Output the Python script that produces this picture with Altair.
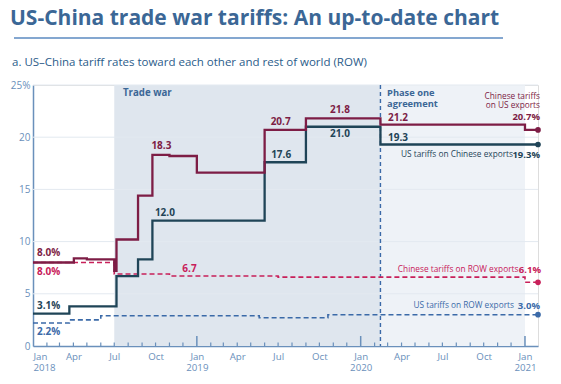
import altair as alt
import pandas as pd

FONT = "Open Sans"

TITLE = "US-China trade war tariffs: An up-to-date chart"
SUBTITLE = "a. US\u2013China tariff rates toward each other and rest of world (ROW)"

# ---- series (step data: date of change, new rate) ----
us_china_dates = ["2018-01-01", "2018-03-23", "2018-07-06", "2018-08-23", "2018-09-24",
                  "2019-06-01", "2019-09-01", "2020-02-14", "2021-01-30"]
us_china_vals = [3.1, 3.8, 6.7, 8.3, 12.0, 17.6, 21.0, 19.3, 19.3]

cn_us_dates = ["2018-01-01", "2018-04-02", "2018-05-01", "2018-07-01", "2018-07-06",
               "2018-08-23", "2018-09-24", "2018-11-01", "2019-01-01", "2019-06-01",
               "2019-09-01", "2020-02-14", "2021-01-01", "2021-01-30"]
cn_us_vals = [8.0, 8.4, 8.3, 7.2, 10.2, 14.4, 18.3, 18.2, 16.6, 20.7, 21.8, 21.2, 20.7, 20.7]

cn_row_dates = ["2018-01-01", "2018-07-01", "2018-11-01", "2019-07-01", "2021-01-01", "2021-01-30"]
cn_row_vals = [8.0, 6.9, 6.7, 6.6, 6.1, 6.1]

us_row_dates = ["2018-01-01", "2018-03-23", "2018-06-01", "2019-05-20", "2019-10-20", "2021-01-30"]
us_row_vals = [2.2, 2.5, 2.9, 2.7, 3.0, 3.0]

# ---- periods ----
trade_war = ("2018-07-01", "2020-02-14")
phase_one = ("2020-02-14", "2021-01-01")

y_ticks = [0, 5, 10, 15, 20, 25]

# ---- colors ----
MAROON = "#7d1d45"
NAVY = "#1f4457"
CRIMSON = "#c8205a"
BLUE = "#3b6aa8"
TXTBLUE = "#3b6796"
AXIS = "#6a90bb"
SHADE1 = "#dfe6ee"
SHADE2 = "#eef2f7"
GRID = "#e3e9f0"

W, H = 505, 261

xscale = alt.Scale(type="utc",
                   domain=[alt.DateTime(year=2018, month=1, date=1, utc=True),
                           alt.DateTime(year=2021, month=1, date=30, utc=True)])
yscale = alt.Scale(domain=[0, 25], nice=False)


def X(field="date", axis=None):
    if axis is None:
        return alt.X(f"{field}:T", scale=xscale, title=None)
    return alt.X(f"{field}:T", scale=xscale, axis=axis, title=None)


def Y(field="v", axis=None):
    if axis is None:
        return alt.Y(f"{field}:Q", scale=yscale, title=None)
    return alt.Y(f"{field}:Q", scale=yscale, axis=axis, title=None)


def series(dates, vals):
    return pd.DataFrame({"date": dates, "v": vals})


layers = []

# shading
shade_df = pd.DataFrame({"s": [trade_war[0], phase_one[0]], "e": [trade_war[1], phase_one[1]],
                         "k": ["tw", "po"]})
layers.append(
    alt.Chart(shade_df).mark_rect().encode(
        x=X("s"), x2="e:T", y=alt.value(0), y2=alt.value(H),
        color=alt.Color("k:N", scale=alt.Scale(domain=["tw", "po"], range=[SHADE1, SHADE2]), legend=None)
    )
)

# grid
layers.append(
    alt.Chart(pd.DataFrame({"v": y_ticks[1:]})).mark_rule(color=GRID, strokeWidth=1).encode(y=Y("v"))
)

# ticks
months = pd.date_range("2018-01-01", "2021-01-01", freq="MS").strftime("%Y-%m-%d").tolist()
minor = [m for m in months if not m.endswith("-01-01")]
major = [m for m in months if m.endswith("-01-01") and m != "2018-01-01"]
layers.append(alt.Chart(pd.DataFrame({"date": minor})).mark_rule(color=AXIS, strokeWidth=1.2).encode(
    x=X(), y=alt.value(H), y2=alt.value(H - 3.5)))
layers.append(alt.Chart(pd.DataFrame({"date": major})).mark_rule(color=AXIS, strokeWidth=1.5).encode(
    x=X(), y=alt.value(H), y2=alt.value(H - 10)))

# phase one divider
layers.append(alt.Chart(pd.DataFrame({"date": [phase_one[0]]})).mark_rule(
    color=BLUE, strokeWidth=1.4, strokeDash=[4, 3]).encode(x=X(), y=alt.value(0), y2=alt.value(H)))

# axes
x_axis = alt.Axis(
    values=[alt.DateTime(year=y, month=m, date=1, utc=True)
            for y in (2018, 2019, 2020) for m in (1, 4, 7, 10)] + [alt.DateTime(year=2021, month=1, date=1, utc=True)],
    labelExpr="utcFormat(datum.value, '%m') == '01' ? [utcFormat(datum.value, '%b'), utcFormat(datum.value, '%Y')] : utcFormat(datum.value, '%b')",
    labelFlush=True, labelOverlap=False,
)
y_axis = alt.Axis(values=y_ticks, labelExpr="datum.value == 25 ? '25%' : datum.label")

# series lines
us_row = series(us_row_dates, us_row_vals)
cn_row = series(cn_row_dates, cn_row_vals)
us_cn = series(us_china_dates, us_china_vals)
cn_us = series(cn_us_dates, cn_us_vals)

layers.append(alt.Chart(us_row).mark_line(interpolate="step-after", color=BLUE, strokeWidth=1.6,
                                           strokeDash=[5, 3]).encode(x=X(axis=x_axis), y=Y(axis=y_axis)))
layers.append(alt.Chart(cn_row).mark_line(interpolate="step-after", color=CRIMSON, strokeWidth=1.6,
                                           strokeDash=[5, 3]).encode(x=X(), y=Y()))
layers.append(alt.Chart(us_cn).mark_line(interpolate="step-after", color=NAVY, strokeWidth=2.3).encode(x=X(), y=Y()))
layers.append(alt.Chart(cn_us).mark_line(interpolate="step-after", color=MAROON, strokeWidth=2.3).encode(x=X(), y=Y()))

# end dots
for df, col in ((us_row, BLUE), (cn_row, CRIMSON), (us_cn, NAVY), (cn_us, MAROON)):
    layers.append(alt.Chart(df.tail(1)).mark_circle(color=col, size=32, opacity=1).encode(x=X(), y=Y()))


def ann(date, value, text, color, dx, dy, align="center", weight="bold", size=10):
    df = pd.DataFrame({"date": [date], "v": [value], "t": [text]})
    return alt.Chart(df).mark_text(dx=dx, dy=dy, align=align, baseline="middle", color=color,
                                   fontWeight=weight, fontSize=size, font=FONT).encode(
        x=X(), y=Y(), text="t:N")


END = "2021-01-30"
NS = 8.3   # series name size
VS = 9.5   # end value size
layers += [
    ann("2018-01-01", 8.0, "8.0%", MAROON, 4, -9.6, "left"),
    ann("2018-01-01", 8.0, "8.0%", CRIMSON, 4, 9.4, "left"),
    ann("2018-01-01", 3.1, "3.1%", NAVY, 4, -7.7, "left"),
    ann("2018-01-01", 2.2, "2.2%", BLUE, 4, 9, "left"),
    ann("2018-09-24", 18.3, "18.3", MAROON, 9, -9),
    ann("2018-09-24", 12.0, "12.0", NAVY, 12.5, -7.5),
    ann("2018-11-01", 6.7, "6.7", CRIMSON, 20, -7.3),
    ann("2019-06-01", 20.7, "20.7", MAROON, 16, -7.6),
    ann("2019-06-01", 17.6, "17.6", NAVY, 16.5, -7.4),
    ann("2019-09-01", 21.8, "21.8", MAROON, 34, -8.6),
    ann("2019-09-01", 21.0, "21.0", NAVY, 34, 7),
    ann("2020-02-14", 21.2, "21.2", MAROON, 7.5, -6.6, "left"),
    ann("2020-02-14", 19.3, "19.3", NAVY, 7.5, -6.4, "left"),
    # end labels
    ann(END, 20.7, "Chinese tariffs", MAROON, 2, -33, "right", "normal", NS),
    ann(END, 20.7, "on US exports", MAROON, 2, -23.5, "right", "normal", NS),
    ann(END, 20.7, "20.7%", MAROON, 2, -13, "right", "bold", VS),
    ann(END, 19.3, "US tariffs on Chinese exports", NAVY, -25, 10, "right", "normal", NS),
    ann(END, 19.3, "19.3%", NAVY, 2, 10, "right", "bold", VS),
    ann(END, 6.1, "Chinese tariffs on ROW exports", CRIMSON, -19.5, -12.4, "right", "normal", NS),
    ann(END, 6.1, "6.1%", CRIMSON, 3, -12.4, "right", "bold", VS),
    ann(END, 3.0, "US tariffs on ROW exports", BLUE, -24, -8.7, "right", "normal", NS),
    ann(END, 3.0, "3.0%", BLUE, 2, -8.7, "right", "bold", VS),
]

# period labels
layers.append(alt.Chart(pd.DataFrame({"date": [trade_war[0]], "t": ["Trade war"]})).mark_text(
    dx=8.7, align="left", baseline="middle", color=TXTBLUE, fontWeight="bold", fontSize=9.7,
    font=FONT).encode(x=X(), y=alt.value(8), text="t:N"))
for i, line in enumerate(["Phase one", "agreement"]):
    layers.append(alt.Chart(pd.DataFrame({"date": [phase_one[0]], "t": [line]})).mark_text(
        dx=6.6, align="left", baseline="middle", color=TXTBLUE, fontWeight="bold", fontSize=9.3,
        font=FONT).encode(x=X(), y=alt.value(7.5 + 11.5 * i), text="t:N"))

# title, rule, subtitle
one = pd.DataFrame({"t": [TITLE], "s": [SUBTITLE]})
layers.append(alt.Chart(one).mark_text(align="left", baseline="alphabetic", color=TXTBLUE, fontWeight="bold",
                                       fontSize=21, font=FONT).encode(
    x=alt.value(-23), y=alt.value(-60), text="t:N"))
layers.append(alt.Chart(one).mark_rule(color="#5b8ac0", strokeWidth=1.5).encode(
    x=alt.value(-19), x2=alt.value(470), y=alt.value(-47)))
layers.append(alt.Chart(one).mark_text(align="left", baseline="middle", color="#2b5c8a",
                                       fontSize=11.5, font=FONT).encode(
    x=alt.value(-21), y=alt.value(-22), text="s:N"))

chart = alt.layer(*layers).properties(
    width=W, height=H,
    autosize=alt.AutoSizeParams(type="none"),
    padding={"left": 25, "top": 77, "right": 15, "bottom": 30},
).configure_view(stroke=None).configure(background="white").configure_axis(
    grid=False, ticks=False, domainColor=AXIS, domainWidth=1.5, labelColor=AXIS,
    labelFont=FONT, labelFontSize=10, title=None
).configure_axisX(labelPadding=5, labelLineHeight=11.5, labelFontSize=9.7).configure_axisY(labelPadding=3)

chart.save("out.html", embed_options={"renderer": "svg", "actions": False})
